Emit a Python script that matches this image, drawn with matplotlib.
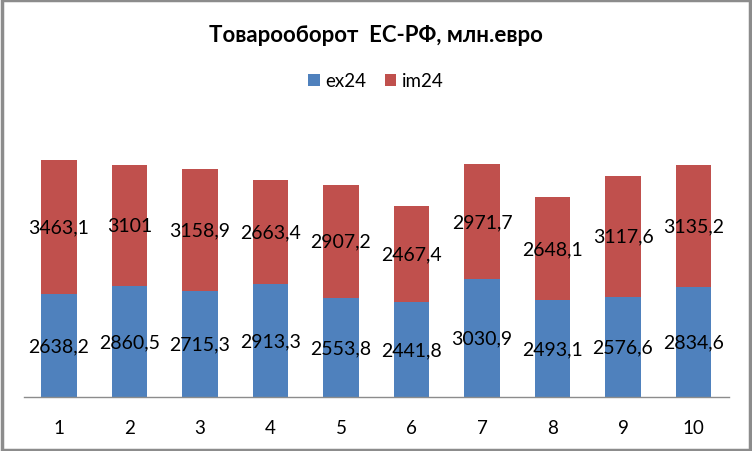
import matplotlib.pyplot as plt
import numpy as np

# data
categories = ["1", "2", "3", "4", "5", "6", "7", "8", "9", "10"]
ex24 = [2638.2, 2860.5, 2715.3, 2913.3, 2553.8, 2441.8, 3030.9, 2493.1, 2576.6, 2834.6]
im24 = [3463.1, 3101, 3158.9, 2663.4, 2907.2, 2467.4, 2971.7, 2648.1, 3117.6, 3135.2]
series_names = ["ex24", "im24"]
title = "Товарооборот  ЕС-РФ, млн.евро"

blue = "#4f81bd"
red = "#c0504d"


def fmt(v):
    s = f"{v:.1f}".rstrip("0").rstrip(".")
    return s.replace(".", ",")


plt.rcParams['font.family'] = ['Lato', 'DejaVu Sans']

fig = plt.figure(figsize=(7.52, 4.52), dpi=100)
fig.patch.set_facecolor("white")
# grey frame round the whole chart
fig.add_artist(plt.Rectangle((0.002, 0.003), 0.995, 0.994, transform=fig.transFigure,
                             fill=False, edgecolor="#8c8c8c", linewidth=2.5))

W, H = 752, 452
left, right = 23.75, 728.75
top, bottom = 126, 398
ax = fig.add_axes([left / W, 1 - bottom / H, (right - left) / W, (bottom - top) / H])

x = np.arange(1, len(categories) + 1)
b1 = ax.bar(x, ex24, width=0.51, color=blue, label=series_names[0])
b2 = ax.bar(x, im24, width=0.51, bottom=ex24, color=red, label=series_names[1])

for xi, e, m in zip(x, ex24, im24):
    ax.text(xi, e / 2, fmt(e), ha="center", va="center", fontsize=14, color="black")
    ax.text(xi, e + m / 2, fmt(m), ha="center", va="center", fontsize=14, color="black")

ax.set_xlim(0.5, len(categories) + 0.5)
ax.set_ylim(0, 7000)
ax.set_xticks(x)
ax.set_xticklabels(categories, fontsize=13.5)
ax.tick_params(axis="x", length=0, pad=16)
ax.set_yticks([])
for side in ["left", "right", "top"]:
    ax.spines[side].set_visible(False)
ax.spines["bottom"].set_color("#8c8c8c")
ax.spines["bottom"].set_linewidth(1)

fig.text(0.5, 1 - 36 / H, title, ha="center", va="center", fontsize=16, fontweight="bold")
fig.legend(handles=[b1, b2], labels=series_names, loc="center", bbox_to_anchor=(0.5, 1 - 82 / H),
           ncol=2, frameon=False, fontsize=13.5, handlelength=0.6, handleheight=0.6,
           handletextpad=0.3, columnspacing=1.0)

fig.savefig("out.png", dpi=100, facecolor="white")
